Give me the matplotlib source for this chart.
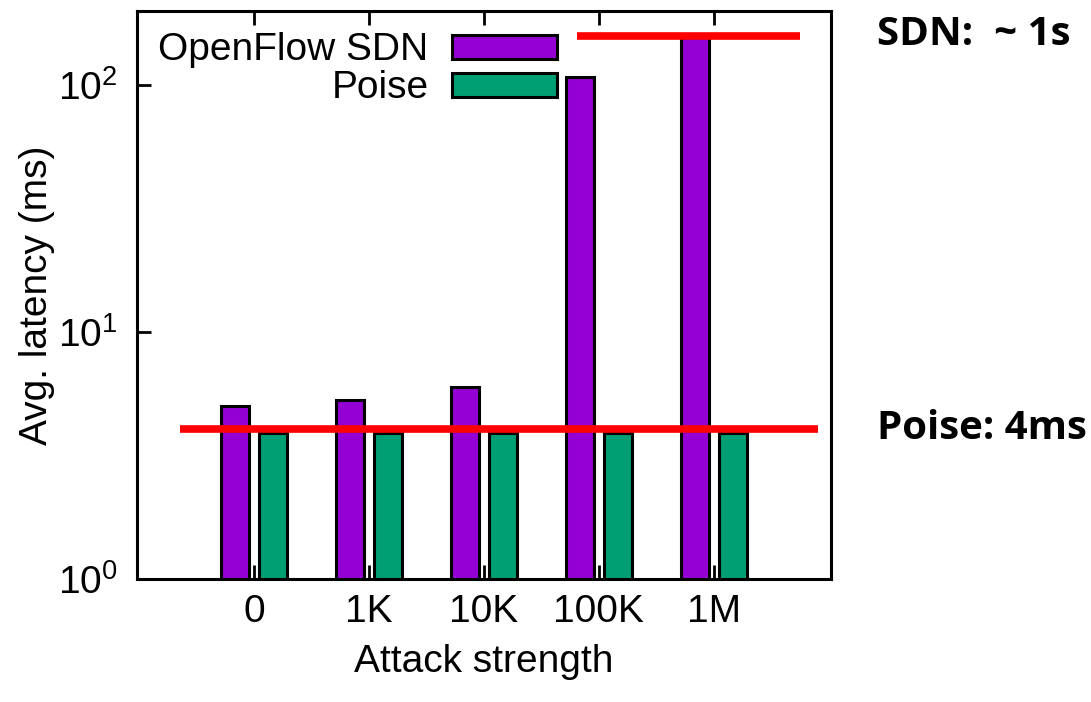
import matplotlib
matplotlib.use("Agg")
import matplotlib.pyplot as plt
import numpy as np

categories = ["0", "1K", "10K", "100K", "1M"]
openflow_sdn = [5.0, 5.3, 6.0, 108, 158]
poise = [3.9, 3.9, 3.9, 3.9, 3.9]
series_names = ["OpenFlow SDN", "Poise"]
ref_levels = [4.05, 159]          # red reference lines (Poise ~4ms, SDN ~1s)
ref_labels = ["Poise: 4ms", "SDN:  ~ 1s"]

plt.rcParams['font.family'] = ['Liberation Sans', 'DejaVu Sans']
plt.rcParams['mathtext.fontset'] = 'custom'
plt.rcParams['mathtext.rm'] = 'Liberation Sans'
plt.rcParams['mathtext.it'] = 'Liberation Sans'

FS = 28

fig = plt.figure(figsize=(10.91, 7.02), dpi=100)
ax = fig.add_axes([0.1256, 0.1752, 0.6361, 0.8091])

x = np.arange(len(categories))
w = 0.245
off = 0.165
ax.bar(x - off, openflow_sdn, w, color="#9400d3", edgecolor="black", linewidth=2.2,
       label=series_names[0], zorder=2)
ax.bar(x + off, poise, w, color="#009e73", edgecolor="black", linewidth=2.2,
       label=series_names[1], zorder=2)

ax.set_yscale("log")
ax.set_ylim(1, 200)
ax.set_xlim(-1.02, 5.02)
ax.set_xticks(x)
ax.set_xticklabels(categories)
ax.set_yticks([1, 10, 100])
ax.yaxis.set_minor_locator(matplotlib.ticker.NullLocator())
ax.tick_params(axis="both", direction="in", length=10, width=2, labelsize=FS)
ax.tick_params(axis="x", top=True, pad=11)
ax.tick_params(axis="y", pad=14)
for s in ax.spines.values():
    s.set_linewidth(2.2)

ax.set_xlabel("Attack strength", fontsize=FS, labelpad=10)
ax.set_ylabel("Avg. latency (ms)", fontsize=FS, labelpad=2)

# red reference lines
ax.hlines(ref_levels[0], -0.65, 4.91, color="#ff0000", linewidth=5.5, zorder=3, clip_on=False)
ax.hlines(ref_levels[1], 2.81, 4.75, color="#ff0000", linewidth=5.5, zorder=3, clip_on=False)

leg = ax.legend(loc="upper left", bbox_to_anchor=(0.0, 1.0), frameon=False,
                markerfirst=False, fontsize=FS, handlelength=2.7, handleheight=0.57,
                labelspacing=0.05, handletextpad=0.6, borderaxespad=0.15)

fig.text(0.804, 0.951, ref_labels[1], fontsize=29, fontweight="bold",
         family=["Open Sans", "DejaVu Sans"], va="center", ha="left")
fig.text(0.804, 0.390, ref_labels[0], fontsize=29, fontweight="bold",
         family=["Open Sans", "DejaVu Sans"], va="center", ha="left")

fig.savefig("out.png", dpi=100)
